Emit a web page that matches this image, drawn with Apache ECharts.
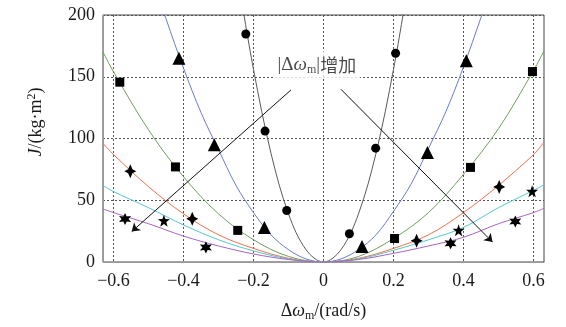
<!DOCTYPE html>
<html>
<head>
<meta charset="utf-8">
<script src="https://cdn.jsdelivr.net/npm/echarts@6/dist/echarts.min.js"></script>
<style>
html,body{margin:0;padding:0;background:#fff;}
#chart{width:566px;height:327px;}
</style>
</head>
<body>
<div id="chart"></div>
<script>
// Tick positions
const xTicks = [-0.6, -0.4, -0.2, 0, 0.2, 0.4, 0.6];
const yTicks = [0, 50, 100, 150, 200];

// Fitted curves J(Δω_m)
const xBlack = [-0.24, -0.2, -0.15, -0.1, -0.05, 0, 0.05, 0.1, 0.15, 0.2, 0.24];
const jBlack = [222, 156, 88, 39, 10, 0, 10, 39, 88, 156, 222];

const xBlue = [-0.47, -0.45, -0.4, -0.35, -0.3, -0.25, -0.2, -0.15, -0.1, -0.05, 0, 0.05, 0.1, 0.15, 0.2, 0.25, 0.3, 0.35, 0.4, 0.45, 0.47];
const jBlue = [215, 197, 157, 121, 91, 62, 40, 22, 10, 2.5, 0, 2.5, 10, 22, 41, 63, 92, 122, 158, 198, 215];

const xWide = [-0.63, -0.6, -0.5, -0.4, -0.3, -0.2, -0.1, 0, 0.1, 0.2, 0.3, 0.4, 0.5, 0.6, 0.63];
const jGreen  = [170, 154, 107, 69, 39, 18, 4.5, 0, 4.5, 19, 40, 71, 108, 155, 171];
const jOrange = [96, 87, 61, 39, 22, 11, 3, 0, 3, 11, 22, 40, 62, 87, 97];
const jCyan   = [62, 57, 44, 30, 18, 9, 2.5, 0, 2.5, 9.5, 18, 28, 44, 58, 62.5];
const jPurple = [43, 40, 31, 21, 13, 6.5, 2, 0, 2, 7, 13, 20, 31, 40, 43.5];

// Measured points
const circlePts   = [[-0.222, 184.6], [-0.167, 106], [-0.105, 41.7], [0.074, 22.9], [0.149, 92.2], [0.206, 169]];
const trianglePts = [[-0.413, 165], [-0.312, 95], [-0.169, 28], [0.110, 12.6], [0.297, 88.6], [0.408, 163]];
const squarePts   = [[-0.582, 145.6], [-0.423, 77], [-0.245, 25.6], [0.203, 19], [0.42, 76.6], [0.597, 154.2]];
const star4Pts    = [[-0.552, 73.5], [-0.375, 35], [0.266, 17.2], [0.502, 60.8]];
const star6Pts    = [[-0.567, 34.8], [-0.336, 11.8], [0.363, 15.1], [0.548, 32.8]];
const star5Pts    = [[-0.456, 33.5], [0.386, 25.7], [0.596, 57.3]];

// Trend arrows and their caption
const arrowLeft  = [[-0.093, 139.3], [-0.548, 24.6]];
const arrowRight = [[0.050, 139.8], [0.483, 16.1]];
const captionAt  = [-0.019, 159.6];

const SERIF = 'Liberation Serif';
const CJK = 'Noto Sans CJK SC';
const INK = '#1a1a1a';

const zip = (xs, ys) => xs.map((x, i) => [x, ys[i]]);

const fmtTick = v => {
  if (Math.abs(v) < 1e-9) return '0';
  return (v < 0 ? '\u2212' : '') + Math.abs(v).toFixed(1);
};

function curve(name, xs, ys, color) {
  return {
    name, type: 'line', data: zip(xs, ys), smooth: 0.35,
    showSymbol: false, symbol: 'none', clip: true, z: 2,
    lineStyle: { color, width: 1 }, silent: true
  };
}

function marks(name, pts, symbol, size) {
  return {
    name, type: 'scatter', data: pts, symbol, symbolSize: size, z: 5,
    itemStyle: { color: '#000', opacity: 1 }, silent: true
  };
}

const star4 = 'path://M0,-12 L3.6,-3.6 L10,0 L3.6,3.6 L0,12 L-3.6,3.6 L-10,0 L-3.6,-3.6 Z';
const star5 = 'path://M0,-10 L2.35,-3.24 L9.51,-3.09 L3.8,1.24 L5.88,8.09 L0,4 L-5.88,8.09 L-3.8,1.24 L-9.51,-3.09 L-2.35,-3.24 Z';
const star6 = 'path://M0,-10 L2.5,-4.33 L8.66,-5 L5,0 L8.66,5 L2.5,4.33 L0,10 L-2.5,4.33 L-8.66,5 L-5,0 L-8.66,-5 L-2.5,-4.33 Z';

const chart = echarts.init(document.getElementById('chart'), null, { renderer: 'canvas' });

chart.setOption({
  animation: false,
  backgroundColor: '#fff',
  textStyle: { fontFamily: SERIF },
  grid: {
    left: 103, right: 22, top: 15, bottom: 65,
    show: true, borderColor: '#444', borderWidth: 1
  },
  xAxis: {
    type: 'value', min: -0.63, max: 0.63,
    axisLine: { show: true, onZero: false, lineStyle: { color: '#999', width: 1 } },
    axisTick: { show: false, customValues: xTicks },
    axisLabel: {
      customValues: xTicks, formatter: fmtTick, margin: 10,
      fontFamily: SERIF, fontSize: 18, color: INK
    },
    splitLine: { show: true, lineStyle: { type: [2, 2], color: '#555', width: 1 } },
    name: '{d|\u0394}{w|\u03c9}{s|m}{d|/(rad/s)}',
    nameLocation: 'middle', nameGap: 39,
    nameTextStyle: {
      rich: {
        d: { fontFamily: SERIF, fontSize: 18, color: INK },
        w: { fontFamily: SERIF, fontSize: 18, fontStyle: 'italic', color: INK },
        s: { fontFamily: SERIF, fontSize: 12, color: INK, padding: [9, 0, 0, 0] }
      }
    }
  },
  yAxis: {
    type: 'value', min: 0, max: 200, interval: 50,
    axisLine: { show: true, onZero: false, lineStyle: { color: '#999', width: 1 } },
    axisTick: { show: false },
    axisLabel: { margin: 8, fontFamily: SERIF, fontSize: 18, color: INK, formatter: v => String(v) },
    splitLine: { show: true, lineStyle: { type: [2, 2], color: '#555', width: 1 } }
  },
  graphic: [{
    type: 'text', x: 36, y: 122, rotation: Math.PI / 2,
    style: {
      text: '{j|J}{t|/(kg\u00b7m}{p|2}{t|)}',
      align: 'center', verticalAlign: 'middle',
      rich: {
        j: { fontFamily: SERIF, fontSize: 18, fontStyle: 'italic', fill: INK },
        t: { fontFamily: SERIF, fontSize: 18, fill: INK },
        p: { fontFamily: SERIF, fontSize: 12, fill: INK, padding: [0, 0, 8, 0] }
      }
    }
  }],
  series: [
    curve('k', xBlack, jBlack, '#5a5a5a'),
    curve('blue', xBlue, jBlue, '#6a7bd0'),
    curve('green', xWide, jGreen, '#6f9e62'),
    curve('orange', xWide, jOrange, '#f4704a'),
    curve('cyan', xWide, jCyan, '#55c8c8'),
    curve('purple', xWide, jPurple, '#a565c0'),
    marks('circle', circlePts, 'circle', 9),
    marks('triangle', trianglePts, 'triangle', 13),
    marks('square', squarePts, 'rect', 9),
    marks('star4', star4Pts, star4, [12, 14]),
    marks('star6', star6Pts, star6, 12),
    marks('star5', star5Pts, star5, 12),
    {
      type: 'lines', coordinateSystem: 'cartesian2d', z: 4, silent: true,
      symbol: ['none', 'arrow'], symbolSize: 8,
      lineStyle: { color: '#111', width: 1, opacity: 1, curveness: 0 },
      data: [{ coords: arrowLeft }, { coords: arrowRight }]
    },
    {
      type: 'scatter', data: [captionAt], symbolSize: 1, z: 6, silent: true,
      itemStyle: { color: 'rgba(0,0,0,0)' },
      label: {
        show: true, position: 'inside',
        formatter: '{d||\u0394}{w|\u03c9}{s|m}{d||}{c|\u589e\u52a0}',
        backgroundColor: '#fff', padding: [3, 4, 3, 4],
        rich: {
          d: { fontFamily: SERIF, fontSize: 19, color: INK },
          w: { fontFamily: SERIF, fontSize: 19, fontStyle: 'italic', color: INK },
          s: { fontFamily: SERIF, fontSize: 12, color: INK, padding: [9, 0, 0, 0] },
          c: { fontFamily: CJK, fontSize: 18, color: INK }
        }
      }
    }
  ]
});
</script>
</body>
</html>
